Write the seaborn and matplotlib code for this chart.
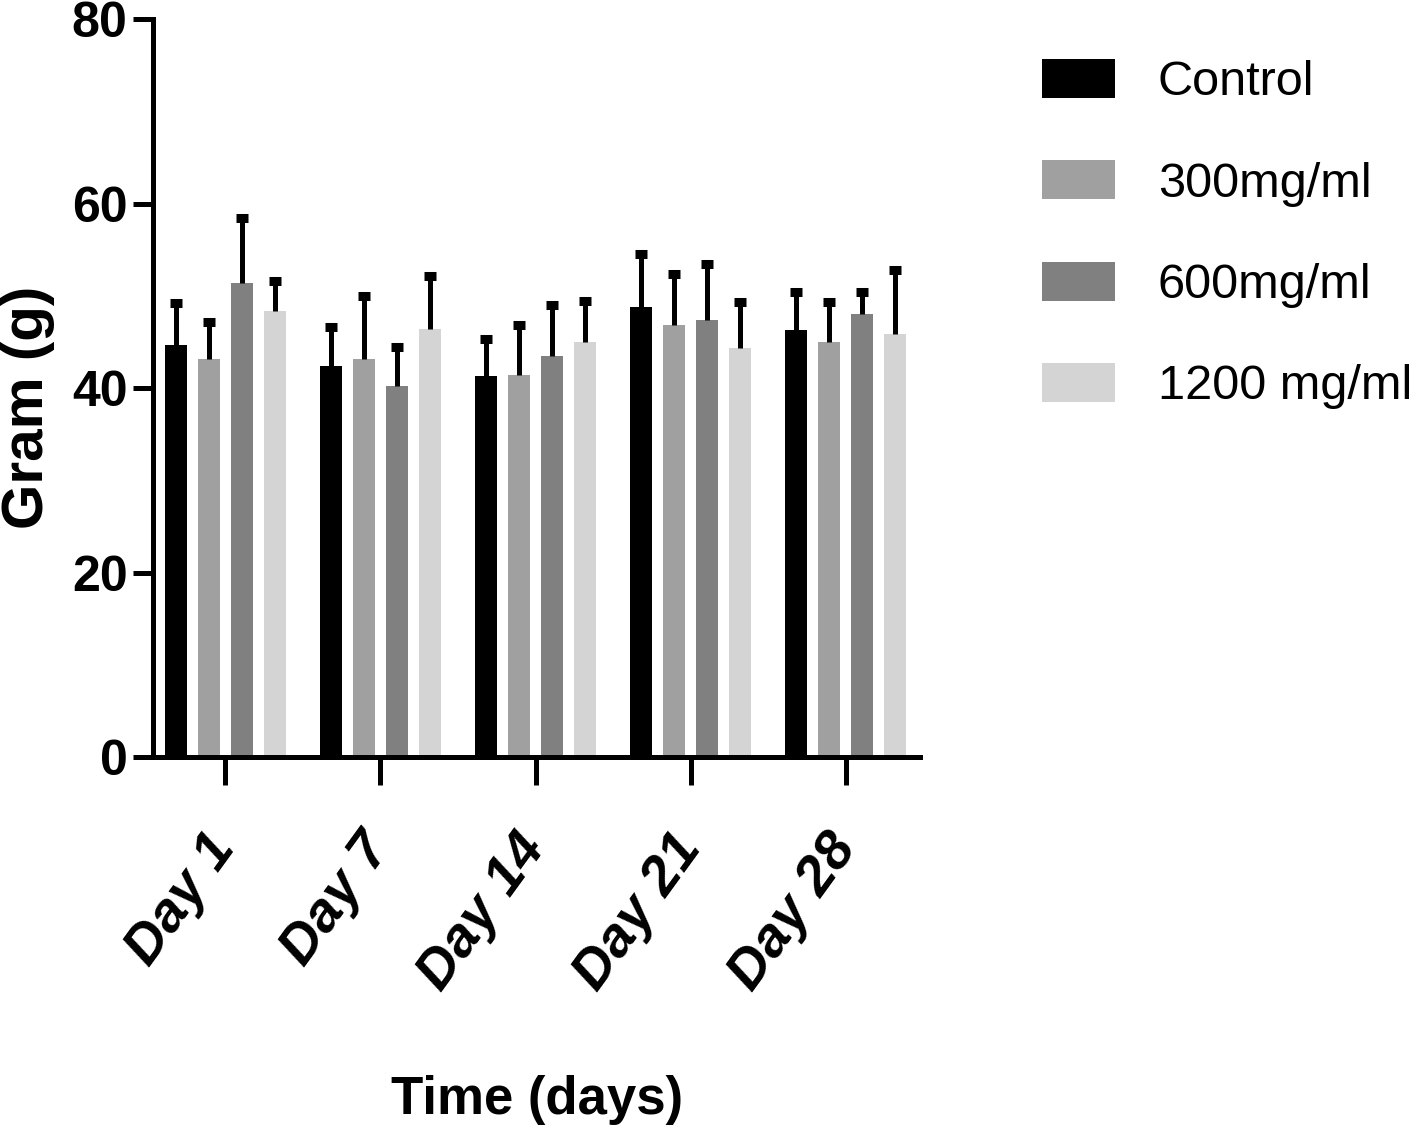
import pandas as pd
import numpy as np
import matplotlib
matplotlib.use("Agg")
import matplotlib.pyplot as plt
import seaborn as sns

# Body weight per group and day (mean and upper SD)
days = ["Day 1", "Day 7", "Day 14", "Day 21", "Day 28"]
groups = ["Control", "300mg/ml", "600mg/ml", "1200 mg/ml"]
colors = ["#000000", "#a0a0a0", "#808080", "#d4d4d4"]

control_mean = [44.7, 42.4, 41.3, 48.8, 46.3]
g300_mean = [43.2, 43.2, 41.4, 46.9, 45.0]
g600_mean = [51.4, 40.2, 43.5, 47.4, 48.0]
g1200_mean = [48.4, 46.4, 45.0, 44.4, 45.9]

control_sd = [4.5, 4.2, 4.0, 5.7, 4.1]
g300_sd = [4.0, 6.8, 5.4, 5.5, 4.4]
g600_sd = [7.1, 4.3, 5.5, 6.1, 2.4]
g1200_sd = [3.2, 5.8, 4.5, 5.0, 6.9]

means = [control_mean, g300_mean, g600_mean, g1200_mean]
sds = [control_sd, g300_sd, g600_sd, g1200_sd]

rows = []
for g, m, s in zip(groups, means, sds):
    for d, v, e in zip(days, m, s):
        rows.append({"Day": d, "Group": g, "Gram": v, "SD": e})
df = pd.DataFrame(rows)

sns.set_style("ticks")
plt.rcParams["font.family"] = ["Liberation Sans", "DejaVu Sans"]
for key in ["text.color", "axes.labelcolor", "xtick.color", "ytick.color", "axes.edgecolor"]:
    plt.rcParams[key] = "black"

fig = plt.figure(figsize=(14.18, 11.40), dpi=100)
ax = fig.add_axes([0.108, 0.336, 0.541, 0.647])

sns.barplot(data=df, x="Day", y="Gram", hue="Group", order=days, hue_order=groups,
            palette=colors, width=0.85, gap=0.33, errorbar=None, saturation=1,
            linewidth=0, ax=ax)

# upper error bars only (stem + flat cap), on top of the bars seaborn drew
for container, g in zip(ax.containers, groups):
    sub = df[df["Group"] == g].set_index("Day").loc[days]
    xs = np.array([p.get_x() + p.get_width() / 2 for p in container.patches])
    ys = np.array([p.get_height() for p in container.patches])
    tops = ys + sub["SD"].values
    ax.vlines(xs, ys, tops, color="black", linewidth=3.6, zorder=3)
    ax.plot(xs, tops, linestyle="none", marker="_", markersize=9,
            markeredgewidth=6.5, color="black", zorder=3)

ax.set_ylim(0, 80)
ax.set_xlim(-0.465, 4.48)
ax.set_yticks([0, 20, 40, 60, 80])

sns.despine(ax=ax)
for side in ["left", "bottom"]:
    ax.spines[side].set_linewidth(3.6)

ax.tick_params(axis="y", length=14.4, width=3.6, pad=4, labelsize=36)
ax.tick_params(axis="x", length=20, width=3.6, pad=40)
for lab in ax.get_yticklabels():
    lab.set_fontweight("bold")
for lab in ax.get_xticklabels():
    lab.set_fontweight("bold")
    lab.set_fontstyle("italic")
    lab.set_fontsize(40)
    lab.set_rotation(54)
    lab.set_ha("right")
    lab.set_va("center")
    lab.set_rotation_mode("anchor")

ax.set_xlabel("Time (days)", fontsize=38, fontweight="bold")
ax.xaxis.label.set_va("center")
ax.xaxis.set_label_coords(0.5, -0.465)
ax.set_ylabel("Gram (g)", fontsize=42, fontweight="bold")
ax.yaxis.label.set_va("center")
ax.yaxis.set_label_coords(-0.163, 0.474)

handles, labels = ax.get_legend_handles_labels()
ax.legend(handles, labels, loc="upper left", bbox_to_anchor=(1042 / 1418, 1 - 59 / 1140),
          bbox_transform=fig.transFigure, frameon=False, fontsize=35,
          borderpad=0, borderaxespad=0, handlelength=1.5, handleheight=0.86,
          handletextpad=0.88, labelspacing=1.13)

fig.savefig("out.png", dpi=100, facecolor="white")
